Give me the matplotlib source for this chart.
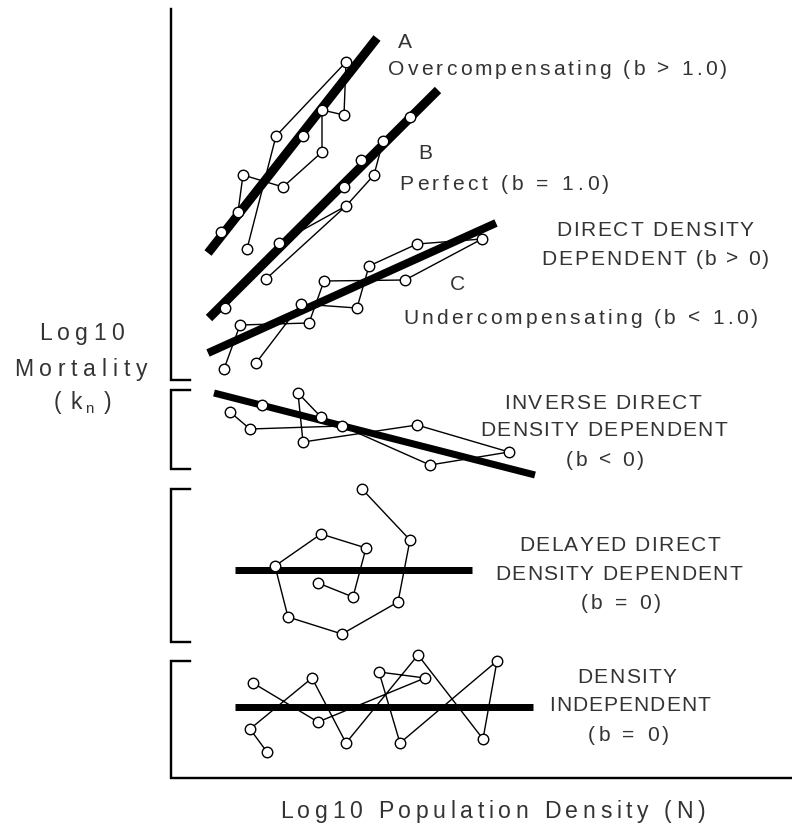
import matplotlib
matplotlib.use("Agg")
import matplotlib.pyplot as plt
from matplotlib.font_manager import findfont, FontProperties
from matplotlib.ft2font import FT2Font

# ---------------------------------------------------------------------------
# Data (schematic k-value vs. density plots, in canvas units)
# ---------------------------------------------------------------------------
# A: overcompensating
a_x = [221, 238, 243, 247, 276, 283, 303, 322, 322, 344, 346]
a_y = [232, 212, 175, 249, 136, 187, 136, 110, 152, 115, 62]
a_paths = [[0, 1, 2, 5, 8, 7, 9, 10, 4, 3], [6]]
a_fit_x = [208, 377]
a_fit_y = [253, 38]

# B: perfect compensation
b_x = [225, 266, 279, 344, 346, 361, 374, 383, 410]
b_y = [308, 279, 243, 187, 206, 160, 175, 141, 117]
b_paths = [[0, 2, 4, 1], [4, 6, 7, 8], [3, 5]]
b_fit_x = [209, 438]
b_fit_y = [318, 90]

# C: undercompensating
c_x = [224, 240, 256, 301, 309, 324, 357, 369, 405, 417, 482]
c_y = [369, 325, 363, 304, 323, 281, 308, 266, 280, 244, 239]
c_paths = [[0, 1, 4, 5, 8, 10, 9, 7, 6, 3, 2]]
c_fit_x = [208, 496]
c_fit_y = [353, 223]

# Inverse direct density dependence
inv_x = [230, 250, 262, 298, 303, 321, 342, 417, 430, 509]
inv_y = [412, 429, 405, 393, 442, 417, 426, 425, 465, 452]
inv_paths = [[0, 1, 6, 5, 3, 4, 7, 9, 8, 6], [2]]
inv_fit_x = [214, 535]
inv_fit_y = [393, 475]

# Delayed density dependence (spiral through time)
del_x = [362, 410, 398, 342, 288, 275, 321, 366, 353, 318]
del_y = [489, 540, 602, 634, 617, 566, 534, 548, 597, 583]
del_paths = [list(range(len(del_x)))]
del_fit_x = [235, 472]
del_fit_y = [570, 570]

# Density independence
ind_x = [267, 250, 312, 346, 418, 483, 497, 400, 379, 425, 318, 253]
ind_y = [752, 729, 678, 743, 655, 739, 661, 743, 672, 678, 722, 683]
ind_paths = [list(range(len(ind_x)))]
ind_fit_x = [235, 533]
ind_fit_y = [707, 707]

# ---------------------------------------------------------------------------
W, H, DPI = 792, 827, 100
INK = "#000000"
TEXT = "#333333"
FAMILY = "Liberation Sans"

fig = plt.figure(figsize=(W / DPI, H / DPI), dpi=DPI)
fig.patch.set_facecolor("white")
ax = fig.add_axes([0, 0, 1, 1])
ax.set_xlim(0, W)
ax.set_ylim(H, 0)
ax.axis("off")

PX = 72 / DPI  # points per canvas unit


def draw_panel(xs, ys, paths, fit_x, fit_y, fit_w):
    for p in paths:
        ax.plot([xs[i] for i in p], [ys[i] for i in p], color=INK,
                lw=1.4 * PX, zorder=2, solid_joinstyle="round")
    ax.plot(fit_x, fit_y, color=INK, lw=fit_w * PX, solid_capstyle="butt",
            zorder=3)
    ax.plot(xs, ys, ls="none", marker="o", ms=10.5 * PX, mfc="white",
            mec=INK, mew=1.4 * PX, zorder=4)


draw_panel(a_x, a_y, a_paths, a_fit_x, a_fit_y, 9)
draw_panel(b_x, b_y, b_paths, b_fit_x, b_fit_y, 9)
draw_panel(c_x, c_y, c_paths, c_fit_x, c_fit_y, 8)
draw_panel(inv_x, inv_y, inv_paths, inv_fit_x, inv_fit_y, 7)
draw_panel(del_x, del_y, del_paths, del_fit_x, del_fit_y, 7)
draw_panel(ind_x, ind_y, ind_paths, ind_fit_x, ind_fit_y, 7)

# Bracketed vertical axis segments and the horizontal axis
AX_X = 171
SERIF = 190
bw = 2.4 * PX
ax.plot([AX_X, AX_X, SERIF], [9, 380, 380], color=INK, lw=bw,
        solid_joinstyle="miter")
ax.plot([SERIF, AX_X, AX_X, SERIF], [390, 390, 469, 469], color=INK, lw=bw,
        solid_joinstyle="miter")
ax.plot([SERIF, AX_X, AX_X, SERIF], [489, 489, 642, 642], color=INK, lw=bw,
        solid_joinstyle="miter")
ax.plot([SERIF, AX_X, AX_X, W], [661, 661, 778, 778], color=INK, lw=bw,
        solid_joinstyle="miter")

# Letter-spaced labels
_font = FT2Font(findfont(FontProperties(family=FAMILY)))


def advances(s, size):
    _font.set_size(size * PX, DPI)
    return [_font.load_char(ord(c)).linearHoriAdvance / 65536 for c in s]


def spaced(s, x0, x1, yc, size=21, color=TEXT):
    adv = advances(s, size)
    track = (x1 - x0 - sum(adv)) / max(len(s) - 1, 1)
    base = yc + 0.358 * size
    x = x0
    for ch, a in zip(s, adv):
        if ch != " ":
            ax.text(x, base, ch, fontsize=size * PX, family=FAMILY,
                    color=color, ha="left", va="baseline")
        x += a + track


labels = [
    ("A", 398, 412, 40),
    ("Overcompensating (b > 1.0)", 388, 727, 67),
    ("B", 418, 431, 151),
    ("Perfect (b = 1.0)", 399, 609, 182),
    ("DIRECT DENSITY", 556, 754, 228),
    ("DEPENDENT (b > 0)", 541, 769, 257),
    ("C", 450, 464, 282),
    ("Undercompensating (b < 1.0)", 403, 758, 316),
    ("INVERSE DIRECT", 504, 701, 401),
    ("DENSITY DEPENDENT", 480, 727, 428),
    ("(b < 0)", 566, 644, 458),
    ("DELAYED DIRECT", 519, 720, 543),
    ("DENSITY DEPENDENT", 495, 742, 572),
    ("(b = 0)", 581, 661, 601),
    ("DENSITY", 577, 677, 675),
    ("INDEPENDENT", 549, 710, 703),
    ("(b = 0)", 588, 669, 733),
]
for s, x0, x1, yc in labels:
    spaced(s, x0, x1, yc)

# Axis titles
spaced("Log10", 39, 124, 332, size=23)
spaced("Mortality", 14, 147, 368, size=23)
spaced("(k", 54, 82, 401, size=23)
spaced("n", 85, 94, 408, size=15)
spaced(")", 104, 111, 401, size=23)
spaced("Log10 Population Density (N)", 280, 705, 810, size=23)

fig.savefig("out.png", dpi=DPI, facecolor="white")
